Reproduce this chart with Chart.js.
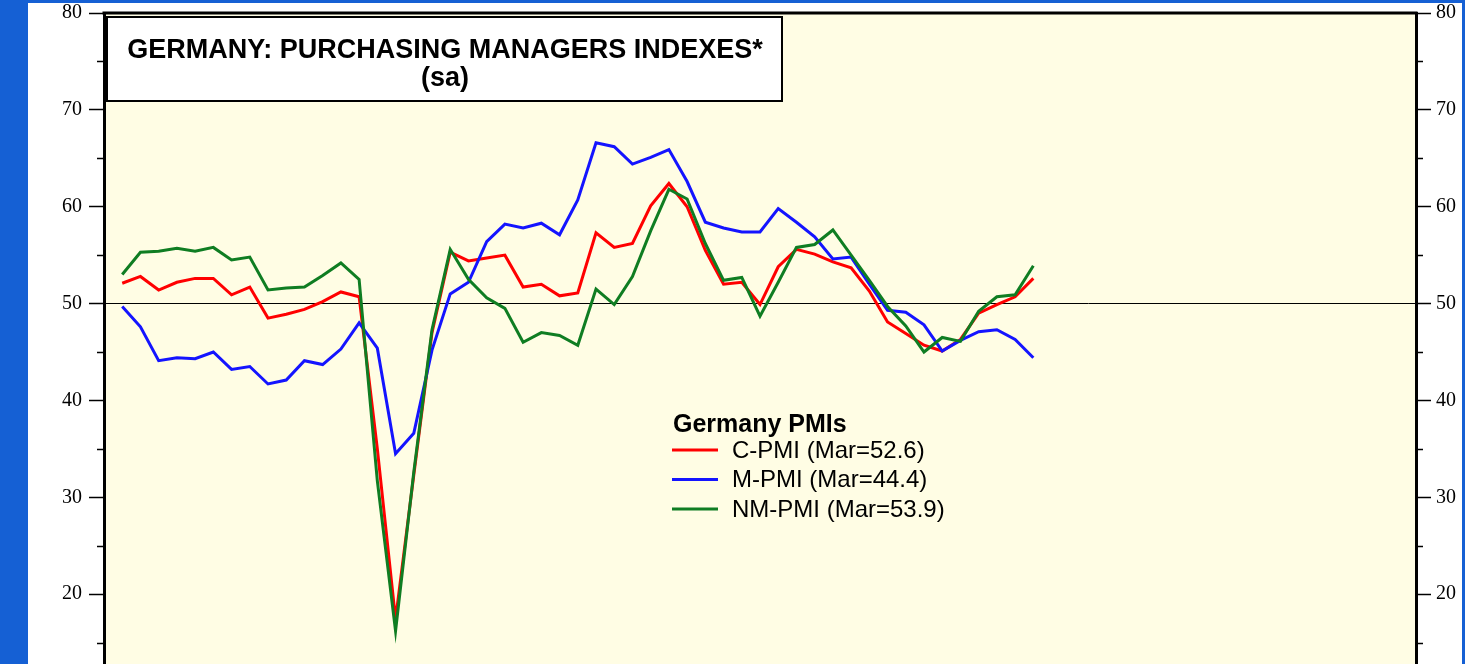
<!DOCTYPE html>
<html>
<head>
<meta charset="utf-8">
<script src="https://cdn.jsdelivr.net/npm/chart.js@4.4.0/dist/chart.umd.min.js"></script>
<style>
  html, body { margin: 0; padding: 0; background: #1560d4; overflow: hidden; }
  #page { position: absolute; left: 28px; top: 3px; width: 1434px; height: 720px; background: #fff; }
  #pmi { display: block; }
</style>
</head>
<body>
<div id="page"><canvas id="pmi" width="1434" height="720"></canvas></div>
<script>
// monthly, Jan 2019 - Mar 2023
const months = [
  'Jan 2019', 'Feb 2019', 'Mar 2019', 'Apr 2019', 'May 2019', 'Jun 2019', 'Jul 2019', 'Aug 2019', 'Sep 2019', 'Oct 2019', 'Nov 2019', 'Dec 2019',
  'Jan 2020', 'Feb 2020', 'Mar 2020', 'Apr 2020', 'May 2020', 'Jun 2020', 'Jul 2020', 'Aug 2020', 'Sep 2020', 'Oct 2020', 'Nov 2020', 'Dec 2020',
  'Jan 2021', 'Feb 2021', 'Mar 2021', 'Apr 2021', 'May 2021', 'Jun 2021', 'Jul 2021', 'Aug 2021', 'Sep 2021', 'Oct 2021', 'Nov 2021', 'Dec 2021',
  'Jan 2022', 'Feb 2022', 'Mar 2022', 'Apr 2022', 'May 2022', 'Jun 2022', 'Jul 2022', 'Aug 2022', 'Sep 2022', 'Oct 2022', 'Nov 2022', 'Dec 2022',
  'Jan 2023', 'Feb 2023', 'Mar 2023'
];

const cPmi = [
  52.1, 52.8, 51.4, 52.2, 52.6, 52.6, 50.9, 51.7, 48.5, 48.9, 49.4, 50.2,
  51.2, 50.7, 35.0, 17.4, 32.3, 47.0, 55.3, 54.4, 54.7, 55.0, 51.7, 52.0,
  50.8, 51.1, 57.3, 55.8, 56.2, 60.1, 62.4, 60.0, 55.5, 52.0, 52.2, 49.9,
  53.8, 55.6, 55.1, 54.3, 53.7, 51.3, 48.1, 46.9, 45.7, 45.1, 46.3, 49.0,
  49.9, 50.7, 52.6
];
const mPmi = [
  49.7, 47.6, 44.1, 44.4, 44.3, 45.0, 43.2, 43.5, 41.7, 42.1, 44.1, 43.7,
  45.3, 48.0, 45.4, 34.5, 36.6, 45.2, 51.0, 52.2, 56.4, 58.2, 57.8, 58.3,
  57.1, 60.7, 66.6, 66.2, 64.4, 65.1, 65.9, 62.6, 58.4, 57.8, 57.4, 57.4,
  59.8, 58.4, 56.9, 54.6, 54.8, 52.0, 49.3, 49.1, 47.8, 45.1, 46.2, 47.1,
  47.3, 46.3, 44.4
];
const nmPmi = [
  53.0, 55.3, 55.4, 55.7, 55.4, 55.8, 54.5, 54.8, 51.4, 51.6, 51.7, 52.9,
  54.2, 52.5, 31.7, 16.2, 32.6, 47.3, 55.6, 52.5, 50.6, 49.5, 46.0, 47.0,
  46.7, 45.7, 51.5, 49.9, 52.8, 57.5, 61.8, 60.8, 56.2, 52.4, 52.7, 48.7,
  52.2, 55.8, 56.1, 57.6, 55.0, 52.4, 49.7, 47.7, 45.0, 46.5, 46.1, 49.2,
  50.7, 50.9, 53.9
];

const seriesLabels = ['C-PMI (Mar=52.6)', 'M-PMI (Mar=44.4)', 'NM-PMI (Mar=53.9)'];
const legendTitle = 'Germany PMIs';
const titleLines = ['GERMANY: PURCHASING MANAGERS INDEXES*', '(sa)'];

const toPoints = vals => vals.map((v, i) => ({ x: i, y: v }));

// yellow plot area, top rule, minor ticks, title box and legend
const frame = {
  id: 'frame',
  beforeDraw(chart) {
    const { ctx, chartArea: a } = chart;
    ctx.save();
    ctx.fillStyle = '#fffde4';
    ctx.fillRect(a.left, a.top, a.right - a.left, a.bottom - a.top);
    ctx.restore();
  },
  afterDraw(chart) {
    const { ctx, chartArea: a, scales } = chart;
    ctx.save();
    ctx.strokeStyle = '#000';
    ctx.lineWidth = 3;
    ctx.beginPath();
    ctx.moveTo(a.left - 1.5, a.top);
    ctx.lineTo(a.right + 1.5, a.top);
    ctx.stroke();

    ctx.lineWidth = 1.5;
    for (let v = 15; v < 80; v += 10) {
      const y = Math.round(scales.y.getPixelForValue(v)) + 0.5;
      ctx.beginPath();
      ctx.moveTo(a.left - 7, y); ctx.lineTo(a.left, y);
      ctx.moveTo(a.right, y); ctx.lineTo(a.right + 7, y);
      ctx.stroke();
    }

    // title box
    ctx.fillStyle = '#fff';
    ctx.fillRect(79, 14, 675, 84);
    ctx.lineWidth = 2;
    ctx.strokeRect(79, 14, 675, 84);
    ctx.fillStyle = '#000';
    ctx.textAlign = 'center';
    ctx.textBaseline = 'alphabetic';
    ctx.font = 'bold 27px "Liberation Sans", Arial, sans-serif';
    ctx.fillText(titleLines[0], 417, 55);
    ctx.fillText(titleLines[1], 417, 83);

    // legend
    ctx.textAlign = 'left';
    ctx.font = 'bold 25px "Liberation Sans", Arial, sans-serif';
    ctx.fillText(legendTitle, 645, 429);
    ctx.font = '24px "Liberation Sans", Arial, sans-serif';
    ctx.textBaseline = 'middle';
    chart.data.datasets.forEach((ds, i) => {
      const y = 447 + i * 29.5;
      ctx.strokeStyle = ds.borderColor;
      ctx.lineWidth = 3;
      ctx.beginPath();
      ctx.moveTo(644, y); ctx.lineTo(690, y);
      ctx.stroke();
      ctx.fillText(ds.label, 704, y + 1);
    });
    ctx.restore();
  }
};

const tickFont = { family: '"Liberation Serif", "Times New Roman", serif', size: 20, lineHeight: 1 };
const fixWidth = w => s => { s.width = w; s.paddingTop = 0; s.paddingBottom = 0; };

new Chart(document.getElementById('pmi'), {
  type: 'line',
  data: {
    datasets: [
      { label: seriesLabels[0], data: toPoints(cPmi), borderColor: '#ff0000', order: 2 },
      { label: seriesLabels[1], data: toPoints(mPmi), borderColor: '#1414ff', order: 1 },
      { label: seriesLabels[2], data: toPoints(nmPmi), borderColor: '#0f7d22', order: 0 }
    ]
  },
  options: {
    responsive: false,
    devicePixelRatio: 1,
    animation: false,
    layout: { padding: { top: 10, bottom: 32, left: 0, right: 0 } },
    elements: {
      line: { borderWidth: 3, tension: 0, fill: false },
      point: { radius: 0 }
    },
    plugins: { legend: { display: false }, tooltip: { enabled: false } },
    scales: {
      x: { type: 'linear', min: -1, max: 71, display: false },
      y: {
        position: 'left', min: 10, max: 80,
        afterFit: fixWidth(76),
        border: { display: true, color: '#000', width: 3 },
        grid: {
          drawOnChartArea: true,
          color: c => (c.tick && c.tick.value === 50 ? '#000' : 'rgba(0,0,0,0)'),
          lineWidth: 1,
          tickColor: '#000', tickLength: 15, tickWidth: 1.5
        },
        ticks: { stepSize: 10, color: '#000', font: tickFont, padding: 7 }
      },
      y2: {
        position: 'right', min: 10, max: 80,
        afterFit: fixWidth(46),
        border: { display: true, color: '#000', width: 3 },
        grid: { drawOnChartArea: false, tickColor: '#000', tickLength: 15, tickWidth: 1.5 },
        ticks: { stepSize: 10, color: '#000', font: tickFont, padding: 5 }
      }
    }
  },
  plugins: [frame]
});
</script>
</body>
</html>
